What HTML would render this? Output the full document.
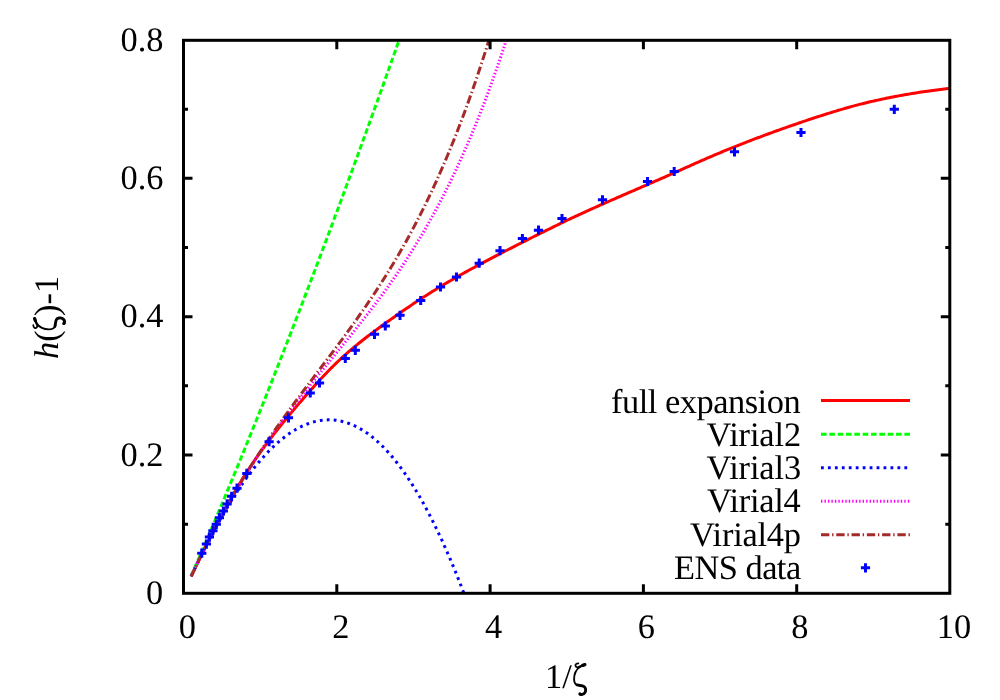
<!DOCTYPE html>
<html><head><meta charset="utf-8"><title>plot</title>
<style>
html,body{margin:0;padding:0;background:#fff;}
body{width:1000px;height:700px;overflow:hidden;}
svg{display:block;}
text{font-family:"Liberation Serif",serif;font-size:34.4px;fill:#000;text-rendering:geometricPrecision;}
.c{fill:none;stroke-width:3;stroke-linecap:butt;stroke-linejoin:round;}
</style></head>
<body>
<svg width="1000" height="700" viewBox="0 0 1000 700">
<rect x="0" y="0" width="1000" height="700" fill="#fff"/>
<g>
<path class="c" stroke="#ff0000" d="M191.16,576.32 L193.07,572.34 L194.97,568.38 L196.87,564.44 L198.77,560.52 L200.67,556.62 L202.58,552.74 L204.48,548.88 L206.38,545.05 L208.28,541.24 L210.18,537.47 L212.09,533.72 L213.99,530.00 L215.89,526.31 L217.79,522.66 L219.69,519.05 L221.59,515.47 L223.50,511.92 L225.40,508.42 L227.30,504.96 L229.20,501.54 L231.10,498.16 L233.01,494.83 L234.91,491.55 L236.81,488.31 L238.71,485.12 L240.61,481.99 L242.51,478.90 L244.42,475.87 L246.32,472.89 L248.22,469.95 L250.12,467.06 L252.02,464.22 L253.93,461.42 L255.83,458.65 L257.73,455.93 L259.63,453.25 L261.53,450.60 L263.44,447.99 L265.34,445.41 L267.24,442.86 L269.14,440.34 L271.04,437.85 L272.94,435.39 L274.85,432.95 L276.75,430.53 L278.65,428.14 L280.55,425.77 L282.45,423.41 L284.36,421.07 L286.26,418.75 L288.16,416.44 L290.06,414.14 L291.96,411.86 L293.86,409.59 L295.77,407.33 L297.67,405.09 L299.57,402.86 L301.47,400.65 L303.37,398.44 L305.28,396.26 L307.18,394.08 L309.08,391.92 L310.98,389.78 L312.88,387.65 L314.78,385.53 L316.69,383.43 L318.59,381.35 L320.49,379.28 L322.39,377.23 L324.29,375.21 L326.20,373.21 L328.10,371.23 L330.00,369.28 L331.90,367.36 L333.80,365.47 L335.71,363.61 L337.61,361.78 L339.51,359.98 L341.41,358.21 L343.31,356.48 L345.21,354.77 L347.12,353.09 L349.02,351.43 L350.92,349.80 L352.82,348.19 L354.72,346.61 L356.63,345.05 L358.53,343.51 L360.43,341.98 L362.33,340.48 L364.23,338.99 L366.13,337.52 L368.04,336.06 L369.94,334.62 L371.84,333.19 L373.74,331.77 L375.64,330.36 L377.55,328.96 L379.45,327.57 L381.35,326.19 L383.25,324.81 L385.15,323.43 L387.05,322.07 L388.96,320.70 L390.86,319.35 L392.76,318.00 L394.66,316.66 L396.56,315.32 L398.47,313.99 L400.37,312.66 L402.27,311.35 L404.17,310.04 L406.07,308.74 L407.98,307.44 L409.88,306.15 L411.78,304.87 L413.68,303.60 L415.58,302.34 L417.48,301.08 L419.39,299.83 L421.29,298.59 L423.19,297.36 L425.09,296.14 L426.99,294.93 L428.90,293.72 L430.80,292.53 L432.70,291.34 L434.60,290.16 L436.50,289.00 L438.40,287.84 L440.31,286.69 L442.21,285.54 L444.11,284.41 L446.01,283.28 L447.91,282.16 L449.82,281.05 L451.72,279.95 L453.62,278.85 L455.52,277.76 L457.42,276.68 L459.32,275.60 L461.23,274.53 L463.13,273.47 L465.03,272.41 L466.93,271.36 L468.83,270.31 L470.74,269.27 L472.64,268.23 L474.54,267.20 L476.44,266.17 L478.34,265.15 L480.25,264.13 L482.15,263.11 L484.05,262.10 L485.95,261.09 L487.85,260.09 L489.75,259.09 L491.66,258.09 L493.56,257.10 L495.46,256.11 L497.36,255.12 L499.26,254.14 L501.17,253.16 L503.07,252.18 L504.97,251.20 L506.87,250.23 L508.77,249.26 L510.67,248.29 L512.58,247.32 L514.48,246.35 L516.38,245.39 L518.28,244.43 L520.18,243.47 L522.09,242.51 L523.99,241.55 L525.89,240.59 L527.79,239.64 L529.69,238.68 L531.59,237.73 L533.50,236.78 L535.40,235.83 L537.30,234.88 L539.20,233.93 L541.10,232.98 L543.01,232.04 L544.91,231.10 L546.81,230.16 L548.71,229.22 L550.61,228.29 L552.51,227.35 L554.42,226.43 L556.32,225.50 L558.22,224.58 L560.12,223.66 L562.02,222.74 L563.93,221.83 L565.83,220.92 L567.73,220.01 L569.63,219.11 L571.53,218.21 L573.44,217.32 L575.34,216.43 L577.24,215.55 L579.14,214.67 L581.04,213.79 L582.94,212.92 L584.85,212.05 L586.75,211.18 L588.65,210.32 L590.55,209.46 L592.45,208.60 L594.36,207.75 L596.26,206.89 L598.16,206.05 L600.06,205.20 L601.96,204.36 L603.86,203.52 L605.77,202.68 L607.67,201.84 L609.57,201.00 L611.47,200.17 L613.37,199.34 L615.28,198.51 L617.18,197.68 L619.08,196.85 L620.98,196.02 L622.88,195.20 L624.78,194.37 L626.69,193.55 L628.59,192.73 L630.49,191.90 L632.39,191.08 L634.29,190.26 L636.20,189.44 L638.10,188.61 L640.00,187.79 L641.90,186.97 L643.80,186.15 L645.71,185.32 L647.61,184.50 L649.51,183.67 L651.41,182.85 L653.31,182.02 L655.21,181.19 L657.12,180.36 L659.02,179.53 L660.92,178.70 L662.82,177.86 L664.72,177.02 L666.63,176.19 L668.53,175.35 L670.43,174.50 L672.33,173.66 L674.23,172.81 L676.13,171.96 L678.04,171.12 L679.94,170.27 L681.84,169.42 L683.74,168.57 L685.64,167.72 L687.55,166.87 L689.45,166.02 L691.35,165.18 L693.25,164.33 L695.15,163.49 L697.05,162.64 L698.96,161.80 L700.86,160.97 L702.76,160.13 L704.66,159.30 L706.56,158.47 L708.47,157.65 L710.37,156.83 L712.27,156.01 L714.17,155.20 L716.07,154.39 L717.98,153.59 L719.88,152.79 L721.78,152.00 L723.68,151.21 L725.58,150.42 L727.48,149.65 L729.39,148.87 L731.29,148.10 L733.19,147.34 L735.09,146.58 L736.99,145.82 L738.90,145.07 L740.80,144.32 L742.70,143.58 L744.60,142.84 L746.50,142.10 L748.40,141.37 L750.31,140.64 L752.21,139.92 L754.11,139.19 L756.01,138.47 L757.91,137.76 L759.82,137.05 L761.72,136.34 L763.62,135.63 L765.52,134.92 L767.42,134.22 L769.33,133.52 L771.23,132.83 L773.13,132.13 L775.03,131.44 L776.93,130.76 L778.83,130.07 L780.74,129.39 L782.64,128.71 L784.54,128.04 L786.44,127.36 L788.34,126.70 L790.25,126.03 L792.15,125.37 L794.05,124.71 L795.95,124.05 L797.85,123.39 L799.75,122.74 L801.66,122.10 L803.56,121.45 L805.46,120.81 L807.36,120.17 L809.26,119.54 L811.17,118.91 L813.07,118.28 L814.97,117.66 L816.87,117.04 L818.77,116.42 L820.67,115.81 L822.58,115.20 L824.48,114.59 L826.38,113.99 L828.28,113.40 L830.18,112.81 L832.09,112.22 L833.99,111.64 L835.89,111.07 L837.79,110.50 L839.69,109.93 L841.60,109.38 L843.50,108.82 L845.40,108.28 L847.30,107.74 L849.20,107.21 L851.10,106.68 L853.01,106.16 L854.91,105.65 L856.81,105.15 L858.71,104.65 L860.61,104.16 L862.52,103.68 L864.42,103.21 L866.32,102.74 L868.22,102.28 L870.12,101.83 L872.02,101.38 L873.93,100.95 L875.83,100.52 L877.73,100.09 L879.63,99.67 L881.53,99.26 L883.44,98.86 L885.34,98.46 L887.24,98.07 L889.14,97.69 L891.04,97.31 L892.94,96.94 L894.85,96.57 L896.75,96.21 L898.65,95.86 L900.55,95.51 L902.45,95.17 L904.36,94.83 L906.26,94.50 L908.16,94.18 L910.06,93.86 L911.96,93.54 L913.87,93.23 L915.77,92.93 L917.67,92.63 L919.57,92.33 L921.47,92.04 L923.37,91.76 L925.28,91.48 L927.18,91.21 L929.08,90.94 L930.98,90.67 L932.88,90.41 L934.79,90.15 L936.69,89.90 L938.59,89.65 L940.49,89.40 L942.39,89.16 L944.29,88.93 L946.20,88.69 L948.10,88.46 L950.00,88.24"/>
<path class="c" stroke="#00ff00" stroke-dasharray="5.56 2.78" d="M191.16,575.90 L193.07,571.55 L194.97,567.19 L196.87,562.82 L198.77,558.43 L200.67,554.03 L202.58,549.62 L204.48,545.20 L206.38,540.76 L208.28,536.32 L210.18,531.86 L212.09,527.39 L213.99,522.90 L215.89,518.41 L217.79,513.90 L219.69,509.39 L221.59,504.86 L223.50,500.32 L225.40,495.77 L227.30,491.20 L229.20,486.63 L231.10,482.05 L233.01,477.45 L234.91,472.85 L236.81,468.23 L238.71,463.60 L240.61,458.97 L242.51,454.32 L244.42,449.66 L246.32,444.99 L248.22,440.31 L250.12,435.62 L252.02,430.92 L253.93,426.21 L255.83,421.49 L257.73,416.76 L259.63,412.02 L261.53,407.27 L263.44,402.51 L265.34,397.75 L267.24,392.97 L269.14,388.18 L271.04,383.38 L272.94,378.57 L274.85,373.75 L276.75,368.93 L278.65,364.09 L280.55,359.24 L282.45,354.39 L284.36,349.52 L286.26,344.65 L288.16,339.76 L290.06,334.87 L291.96,329.97 L293.86,325.06 L295.77,320.14 L297.67,315.21 L299.57,310.27 L301.47,305.33 L303.37,300.37 L305.28,295.41 L307.18,290.43 L309.08,285.45 L310.98,280.46 L312.88,275.46 L314.78,270.45 L316.69,265.44 L318.59,260.41 L320.49,255.38 L322.39,250.33 L324.29,245.28 L326.20,240.22 L328.10,235.16 L330.00,230.08 L331.90,224.99 L333.80,219.90 L335.71,214.80 L337.61,209.69 L339.51,204.57 L341.41,199.45 L343.31,194.31 L345.21,189.17 L347.12,184.02 L349.02,178.86 L350.92,173.69 L352.82,168.52 L354.72,163.34 L356.63,158.15 L358.53,152.95 L360.43,147.74 L362.33,142.53 L364.23,137.31 L366.13,132.08 L368.04,126.84 L369.94,121.59 L371.84,116.34 L373.74,111.08 L375.64,105.81 L377.55,100.53 L379.45,95.25 L381.35,89.96 L383.25,84.66 L385.15,79.35 L387.05,74.04 L388.96,68.72 L390.86,63.39 L392.76,58.05 L394.66,52.70 L396.56,47.35 L398.47,41.99 L399.07,40.30"/>
<path class="c" stroke="#0000ff" stroke-dasharray="2.78 4.17" d="M191.16,576.38 L193.07,572.30 L194.97,568.26 L196.87,564.27 L198.77,560.33 L200.67,556.44 L202.58,552.59 L204.48,548.80 L206.38,545.05 L208.28,541.35 L210.18,537.70 L212.09,534.10 L213.99,530.56 L215.89,527.06 L217.79,523.61 L219.69,520.22 L221.59,516.87 L223.50,513.58 L225.40,510.34 L227.30,507.15 L229.20,504.02 L231.10,500.94 L233.01,497.91 L234.91,494.93 L236.81,492.01 L238.71,489.14 L240.61,486.33 L242.51,483.57 L244.42,480.87 L246.32,478.22 L248.22,475.62 L250.12,473.09 L252.02,470.60 L253.93,468.18 L255.83,465.81 L257.73,463.50 L259.63,461.24 L261.53,459.04 L263.44,456.90 L265.34,454.82 L267.24,452.79 L269.14,450.83 L271.04,448.92 L272.94,447.07 L274.85,445.27 L276.75,443.54 L278.65,441.87 L280.55,440.25 L282.45,438.70 L284.36,437.20 L286.26,435.77 L288.16,434.40 L290.06,433.08 L291.96,431.83 L293.86,430.64 L295.77,429.51 L297.67,428.44 L299.57,427.43 L301.47,426.48 L303.37,425.60 L305.28,424.78 L307.18,424.02 L309.08,423.32 L310.98,422.69 L312.88,422.12 L314.78,421.61 L316.69,421.17 L318.59,420.79 L320.49,420.47 L322.39,420.22 L324.29,420.03 L326.20,419.90 L328.10,419.84 L330.00,419.85 L331.90,419.92 L333.80,420.05 L335.71,420.25 L337.61,420.52 L339.51,420.85 L341.41,421.25 L343.31,421.71 L345.21,422.24 L347.12,422.84 L349.02,423.50 L350.92,424.23 L352.82,425.03 L354.72,425.89 L356.63,426.82 L358.53,427.82 L360.43,428.88 L362.33,430.02 L364.23,431.22 L366.13,432.49 L368.04,433.82 L369.94,435.23 L371.84,436.70 L373.74,438.25 L375.64,439.86 L377.55,441.54 L379.45,443.29 L381.35,445.11 L383.25,447.00 L385.15,448.96 L387.05,450.99 L388.96,453.09 L390.86,455.26 L392.76,457.50 L394.66,459.81 L396.56,462.19 L398.47,464.65 L400.37,467.17 L402.27,469.76 L404.17,472.43 L406.07,475.17 L407.98,477.98 L409.88,480.86 L411.78,483.81 L413.68,486.83 L415.58,489.93 L417.48,493.10 L419.39,496.34 L421.29,499.66 L423.19,503.04 L425.09,506.50 L426.99,510.04 L428.90,513.65 L430.80,517.33 L432.70,521.08 L434.60,524.91 L436.50,528.81 L438.40,532.78 L440.31,536.83 L442.21,540.96 L444.11,545.16 L446.01,549.43 L447.91,553.78 L449.82,558.20 L451.72,562.70 L453.62,567.27 L455.52,571.92 L457.42,576.64 L459.32,581.44 L461.23,586.32 L463.13,591.27 L463.90,593.30"/>
<path class="c" stroke="#ff00ff" stroke-dasharray="1.39 2.08" d="M191.16,576.37 L193.07,572.28 L194.97,568.23 L196.87,564.23 L198.77,560.27 L200.67,556.35 L202.58,552.47 L204.48,548.64 L206.38,544.84 L208.28,541.09 L210.18,537.37 L212.09,533.70 L213.99,530.06 L215.89,526.46 L217.79,522.90 L219.69,519.38 L221.59,515.90 L223.50,512.45 L225.40,509.04 L227.30,505.67 L229.20,502.33 L231.10,499.02 L233.01,495.75 L234.91,492.52 L236.81,489.32 L238.71,486.15 L240.61,483.01 L242.51,479.90 L244.42,476.83 L246.32,473.78 L248.22,470.77 L250.12,467.78 L252.02,464.83 L253.93,461.90 L255.83,459.00 L257.73,456.13 L259.63,453.28 L261.53,450.46 L263.44,447.67 L265.34,444.89 L267.24,442.15 L269.14,439.43 L271.04,436.73 L272.94,434.05 L274.85,431.39 L276.75,428.76 L278.65,426.14 L280.55,423.55 L282.45,420.97 L284.36,418.42 L286.26,415.88 L288.16,413.35 L290.06,410.85 L291.96,408.36 L293.86,405.88 L295.77,403.42 L297.67,400.97 L299.57,398.54 L301.47,396.11 L303.37,393.70 L305.28,391.30 L307.18,388.92 L309.08,386.54 L310.98,384.16 L312.88,381.80 L314.78,379.45 L316.69,377.10 L318.59,374.75 L320.49,372.42 L322.39,370.08 L324.29,367.75 L326.20,365.43 L328.10,363.10 L330.00,360.78 L331.90,358.46 L333.80,356.13 L335.71,353.81 L337.61,351.49 L339.51,349.16 L341.41,346.83 L343.31,344.50 L345.21,342.16 L347.12,339.81 L349.02,337.46 L350.92,335.11 L352.82,332.74 L354.72,330.37 L356.63,327.99 L358.53,325.60 L360.43,323.19 L362.33,320.78 L364.23,318.35 L366.13,315.91 L368.04,313.46 L369.94,310.99 L371.84,308.50 L373.74,306.00 L375.64,303.48 L377.55,300.94 L379.45,298.39 L381.35,295.81 L383.25,293.21 L385.15,290.60 L387.05,287.96 L388.96,285.29 L390.86,282.61 L392.76,279.89 L394.66,277.15 L396.56,274.39 L398.47,271.60 L400.37,268.78 L402.27,265.93 L404.17,263.05 L406.07,260.14 L407.98,257.20 L409.88,254.22 L411.78,251.22 L413.68,248.17 L415.58,245.10 L417.48,241.98 L419.39,238.83 L421.29,235.64 L423.19,232.42 L425.09,229.15 L426.99,225.85 L428.90,222.50 L430.80,219.11 L432.70,215.67 L434.60,212.20 L436.50,208.67 L438.40,205.10 L440.31,201.49 L442.21,197.83 L444.11,194.12 L446.01,190.35 L447.91,186.54 L449.82,182.68 L451.72,178.77 L453.62,174.80 L455.52,170.78 L457.42,166.70 L459.32,162.56 L461.23,158.37 L463.13,154.13 L465.03,149.82 L466.93,145.45 L468.83,141.03 L470.74,136.54 L472.64,131.99 L474.54,127.37 L476.44,122.69 L478.34,117.95 L480.25,113.14 L482.15,108.26 L484.05,103.31 L485.95,98.30 L487.85,93.21 L489.75,88.06 L491.66,82.83 L493.56,77.53 L495.46,72.15 L497.36,66.70 L499.26,61.17 L501.17,55.57 L503.07,49.89 L504.97,44.13 L506.21,40.30"/>
<path class="c" stroke="#a52a2a" stroke-dasharray="8.33 2.78 1.39 2.78" d="M191.16,576.37 L193.07,572.28 L194.97,568.23 L196.87,564.23 L198.77,560.26 L200.67,556.34 L202.58,552.46 L204.48,548.62 L206.38,544.82 L208.28,541.06 L210.18,537.34 L212.09,533.66 L213.99,530.02 L215.89,526.41 L217.79,522.84 L219.69,519.31 L221.59,515.82 L223.50,512.36 L225.40,508.93 L227.30,505.54 L229.20,502.18 L231.10,498.86 L233.01,495.57 L234.91,492.31 L236.81,489.08 L238.71,485.88 L240.61,482.72 L242.51,479.58 L244.42,476.47 L246.32,473.40 L248.22,470.35 L250.12,467.32 L252.02,464.32 L253.93,461.35 L255.83,458.41 L257.73,455.48 L259.63,452.59 L261.53,449.71 L263.44,446.86 L265.34,444.03 L267.24,441.22 L269.14,438.43 L271.04,435.66 L272.94,432.91 L274.85,430.18 L276.75,427.47 L278.65,424.77 L280.55,422.09 L282.45,419.43 L284.36,416.78 L286.26,414.14 L288.16,411.52 L290.06,408.91 L291.96,406.31 L293.86,403.72 L295.77,401.15 L297.67,398.58 L299.57,396.02 L301.47,393.47 L303.37,390.92 L305.28,388.39 L307.18,385.86 L309.08,383.33 L310.98,380.81 L312.88,378.29 L314.78,375.77 L316.69,373.26 L318.59,370.74 L320.49,368.23 L322.39,365.71 L324.29,363.20 L326.20,360.68 L328.10,358.16 L330.00,355.63 L331.90,353.10 L333.80,350.56 L335.71,348.02 L337.61,345.47 L339.51,342.91 L341.41,340.34 L343.31,337.77 L345.21,335.18 L347.12,332.58 L349.02,329.97 L350.92,327.34 L352.82,324.70 L354.72,322.05 L356.63,319.37 L358.53,316.69 L360.43,313.98 L362.33,311.26 L364.23,308.51 L366.13,305.75 L368.04,302.97 L369.94,300.16 L371.84,297.33 L373.74,294.47 L375.64,291.60 L377.55,288.69 L379.45,285.76 L381.35,282.80 L383.25,279.81 L385.15,276.80 L387.05,273.75 L388.96,270.67 L390.86,267.56 L392.76,264.41 L394.66,261.24 L396.56,258.02 L398.47,254.77 L400.37,251.49 L402.27,248.16 L404.17,244.80 L406.07,241.40 L407.98,237.96 L409.88,234.47 L411.78,230.94 L413.68,227.37 L415.58,223.76 L417.48,220.10 L419.39,216.39 L421.29,212.64 L423.19,208.83 L425.09,204.98 L426.99,201.08 L428.90,197.12 L430.80,193.12 L432.70,189.06 L434.60,184.94 L436.50,180.77 L438.40,176.55 L440.31,172.26 L442.21,167.92 L444.11,163.52 L446.01,159.06 L447.91,154.54 L449.82,149.95 L451.72,145.30 L453.62,140.59 L455.52,135.81 L457.42,130.97 L459.32,126.06 L461.23,121.08 L463.13,116.03 L465.03,110.91 L466.93,105.72 L468.83,100.45 L470.74,95.12 L472.64,89.70 L474.54,84.21 L476.44,78.65 L478.34,73.01 L480.25,67.29 L482.15,61.48 L484.05,55.60 L485.95,49.64 L487.85,43.59 L488.87,40.30"/>
<path class="c" stroke="#0000ff" d="M197.20,553.20H206.40M201.80,548.60V557.80 M201.80,544.10H211.00M206.40,539.50V548.70 M204.80,537.10H214.00M209.40,532.50V541.70 M208.30,530.70H217.50M212.90,526.10V535.30 M211.70,524.30H220.90M216.30,519.70V528.90 M214.80,517.70H224.00M219.40,513.10V522.30 M218.80,511.10H228.00M223.40,506.50V515.70 M222.50,503.90H231.70M227.10,499.30V508.50 M227.00,496.30H236.20M231.60,491.70V500.90 M232.40,488.20H241.60M237.00,483.60V492.80 M242.20,473.40H251.40M246.80,468.80V478.00 M264.50,441.70H273.70M269.10,437.10V446.30 M283.90,417.80H293.10M288.50,413.20V422.40 M305.65,393.00H314.85M310.25,388.40V397.60 M314.90,383.00H324.10M319.50,378.40V387.60 M340.70,358.50H349.90M345.30,353.90V363.10 M350.70,350.30H359.90M355.30,345.70V354.90 M369.90,334.30H379.10M374.50,329.70V338.90 M380.70,326.00H389.90M385.30,321.40V330.60 M395.40,315.30H404.60M400.00,310.70V319.90 M416.10,300.50H425.30M420.70,295.90V305.10 M435.90,287.00H445.10M440.50,282.40V291.60 M451.90,277.00H461.10M456.50,272.40V281.60 M474.60,263.20H483.80M479.20,258.60V267.80 M495.40,250.70H504.60M500.00,246.10V255.30 M517.80,238.50H527.00M522.40,233.90V243.10 M533.90,230.20H543.10M538.50,225.60V234.80 M557.40,218.50H566.60M562.00,213.90V223.10 M597.90,199.80H607.10M602.50,195.20V204.40 M642.90,181.50H652.10M647.50,176.90V186.10 M669.60,171.50H678.80M674.20,166.90V176.10 M729.90,151.80H739.10M734.50,147.20V156.40 M796.40,132.50H805.60M801.00,127.90V137.10 M889.70,109.30H898.90M894.30,104.70V113.90"/>
</g>
<g>
<path class="c" stroke="#ff0000" d="M821,400.6H910"/>
<path class="c" stroke="#00ff00" stroke-dasharray="5.56 2.78" d="M821,434.3H910"/>
<path class="c" stroke="#0000ff" stroke-dasharray="2.78 4.17" d="M821,467.7H910"/>
<path class="c" stroke="#ff00ff" stroke-dasharray="1.39 2.08" d="M821,501.2H910"/>
<path class="c" stroke="#a52a2a" stroke-dasharray="8.33 2.78 1.39 2.78" d="M821,534.7H910"/>
<path class="c" stroke="#0000ff" d="M860.90,567.80H870.10M865.50,563.20V572.40"/>
</g>
<path class="c" stroke="#000" d="M336.80,593.3v-9 M336.80,40.3v9 M490.10,593.3v-9 M490.10,40.3v9 M643.40,593.3v-9 M643.40,40.3v9 M796.70,593.3v-9 M796.70,40.3v9 M183.5,454.98h9 M949.8,454.98h-9 M183.5,316.66h9 M949.8,316.66h-9 M183.5,178.34h9 M949.8,178.34h-9 M183.5,524.14h4.5 M949.8,524.14h-4.5 M183.5,385.82h4.5 M949.8,385.82h-4.5 M183.5,247.50h4.5 M949.8,247.50h-4.5 M183.5,109.18h4.5 M949.8,109.18h-4.5"/>
<rect x="183.5" y="40.3" width="766.3" height="553.00" fill="none" stroke="#000" stroke-width="3"/>
<g class="t" opacity="0.999">
<text x="146.00" y="604.00">0</text>
<text x="120.50" y="465.68">0.2</text>
<text x="120.50" y="327.36">0.4</text>
<text x="120.50" y="189.04">0.6</text>
<text x="120.50" y="50.72">0.8</text>
<text x="178.75" y="637.90">0</text>
<text x="332.25" y="637.90">2</text>
<text x="484.95" y="637.90">4</text>
<text x="637.75" y="637.90">6</text>
<text x="791.25" y="637.90">8</text>
<text x="936.80" y="637.90">10</text>
<text x="611.00" y="412.60" textLength="189.61" lengthAdjust="spacing">full expansion</text>
<text x="706.50" y="446.00" textLength="94.66" lengthAdjust="spacing">Virial2</text>
<text x="706.50" y="479.10" textLength="94.66" lengthAdjust="spacing">Virial3</text>
<text x="707.00" y="512.30" textLength="93.66" lengthAdjust="spacing">Virial4</text>
<text x="690.00" y="545.60" textLength="111.05" lengthAdjust="spacing">Virial4p</text>
<text x="674.00" y="578.80" textLength="127.16" lengthAdjust="spacing">ENS data</text>
<text x="545.10" y="688.00">1/</text>
<text transform="translate(58.00,359.00) rotate(-90)"><tspan font-style="italic">h</tspan>(</text>
<text transform="translate(58.00,316.00) rotate(-90)">)-1</text>
<g transform="translate(573.5,688)" fill="none" stroke="#000" stroke-linecap="round" stroke-linejoin="round">
<path stroke-width="1.7" d="M4.9,-24.7 C2.7,-24.5 1.7,-23.5 1.9,-22.4 C2.1,-21.2 3.4,-20.6 5.3,-20.6"/>
<path stroke-width="3.3" d="M11.4,-23.4 L9.2,-22.6"/>
<path stroke-width="2.3" d="M9.4,-22.7 L5.6,-20.9"/>
<path stroke-width="1.9" d="M6.6,-21.5 C2.2,-18.2 0.5,-13.5 0.6,-8.6 C0.7,-5 2.2,-2.9 5,-2.6"/>
<path stroke-width="2.9" d="M3.6,-3.1 C6,-2.4 8.6,-2.6 10.4,-1.6 C12.2,-0.6 12.6,2.6 11.6,4.4 C10.6,6.2 8.4,6.9 6.6,6.3"/>
<circle cx="6.4" cy="5.7" r="1.5" fill="#000" stroke="none"/>
</g>
<g transform="translate(58,330) rotate(-90)" fill="none" stroke="#000" stroke-linecap="round" stroke-linejoin="round">
<path stroke-width="1.7" d="M4.9,-24.7 C2.7,-24.5 1.7,-23.5 1.9,-22.4 C2.1,-21.2 3.4,-20.6 5.3,-20.6"/>
<path stroke-width="3.3" d="M11.4,-23.4 L9.2,-22.6"/>
<path stroke-width="2.3" d="M9.4,-22.7 L5.6,-20.9"/>
<path stroke-width="1.9" d="M6.6,-21.5 C2.2,-18.2 0.5,-13.5 0.6,-8.6 C0.7,-5 2.2,-2.9 5,-2.6"/>
<path stroke-width="2.9" d="M3.6,-3.1 C6,-2.4 8.6,-2.6 10.4,-1.6 C12.2,-0.6 12.6,2.6 11.6,4.4 C10.6,6.2 8.4,6.9 6.6,6.3"/>
<circle cx="6.4" cy="5.7" r="1.5" fill="#000" stroke="none"/>
</g>
</g>
</svg>
</body></html>
